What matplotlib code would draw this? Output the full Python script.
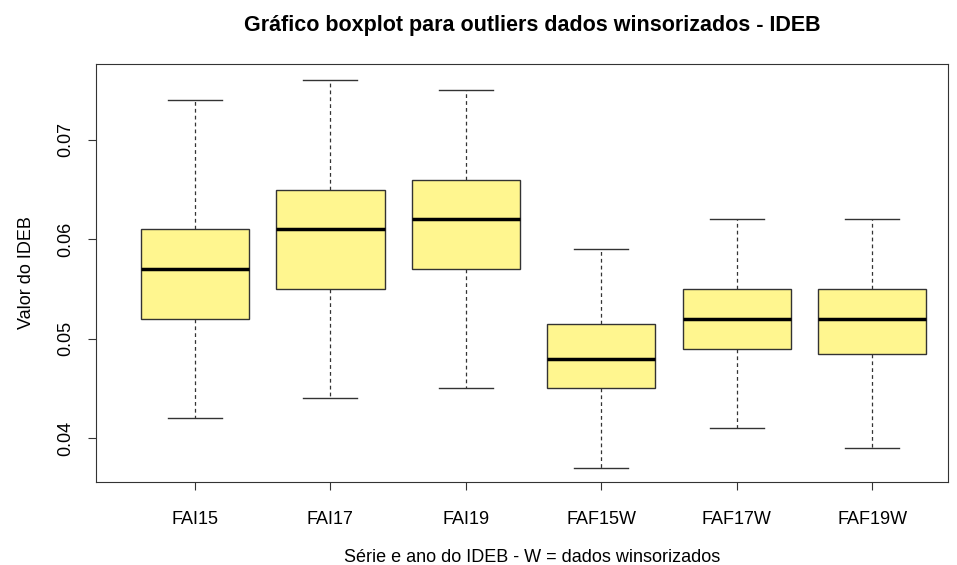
import matplotlib
matplotlib.use('Agg')
from matplotlib import pyplot as plt

plt.rcParams['font.family'] = ['Liberation Sans', 'DejaVu Sans']

labels = ['FAI15', 'FAI17', 'FAI19', 'FAF15W', 'FAF17W', 'FAF19W']
whislo = [0.042, 0.044, 0.045, 0.037, 0.041, 0.039]
q1 = [0.052, 0.055, 0.057, 0.045, 0.049, 0.0485]
med = [0.057, 0.061, 0.062, 0.048, 0.052, 0.052]
q3 = [0.061, 0.065, 0.066, 0.0515, 0.055, 0.055]
whishi = [0.074, 0.076, 0.075, 0.059, 0.062, 0.062]

stats = []
for i in range(len(labels)):
    stats.append(dict(label=labels[i], whislo=whislo[i], q1=q1[i], med=med[i],
                      q3=q3[i], whishi=whishi[i], fliers=[]))

fig = plt.figure(figsize=(9.57, 5.65), dpi=100)
ax = fig.add_axes([96/957, 1 - 482/565, 852/957, 418/565])

ax.bxp(stats, positions=range(1, 7), widths=0.8, patch_artist=True,
       boxprops=dict(facecolor='#FFF68F', edgecolor='#333333', linewidth=1),
       medianprops=dict(color='black', linewidth=2.5),
       whiskerprops=dict(color='#333333', linestyle=(0, (3, 2.5)), linewidth=0.9),
       capprops=dict(color='#333333', linewidth=1),
       capwidths=0.4)

ax.set_xlim(0.27, 6.56)
ax.set_ylim(0.03557, 0.07765)
ax.set_yticks([0.04, 0.05, 0.06, 0.07])
ax.set_yticklabels(['0.04', '0.05', '0.06', '0.07'], rotation=90, va='center')
ax.tick_params(axis='both', direction='out', length=6, labelsize=13, color='#333333')
ax.tick_params(axis='x', pad=15)
ax.tick_params(axis='y', pad=10)
for s in ax.spines.values():
    s.set_color('#333333')

ax.set_title('Gráfico boxplot para outliers dados winsorizados - IDEB',
             fontsize=15.5, fontweight='bold', pad=24, x=0.512)
ax.set_xlabel('Série e ano do IDEB - W = dados winsorizados', fontsize=13, labelpad=15, x=0.512)
ax.set_ylabel('Valor do IDEB', fontsize=13, labelpad=16)

fig.savefig('out.png', dpi=100)
